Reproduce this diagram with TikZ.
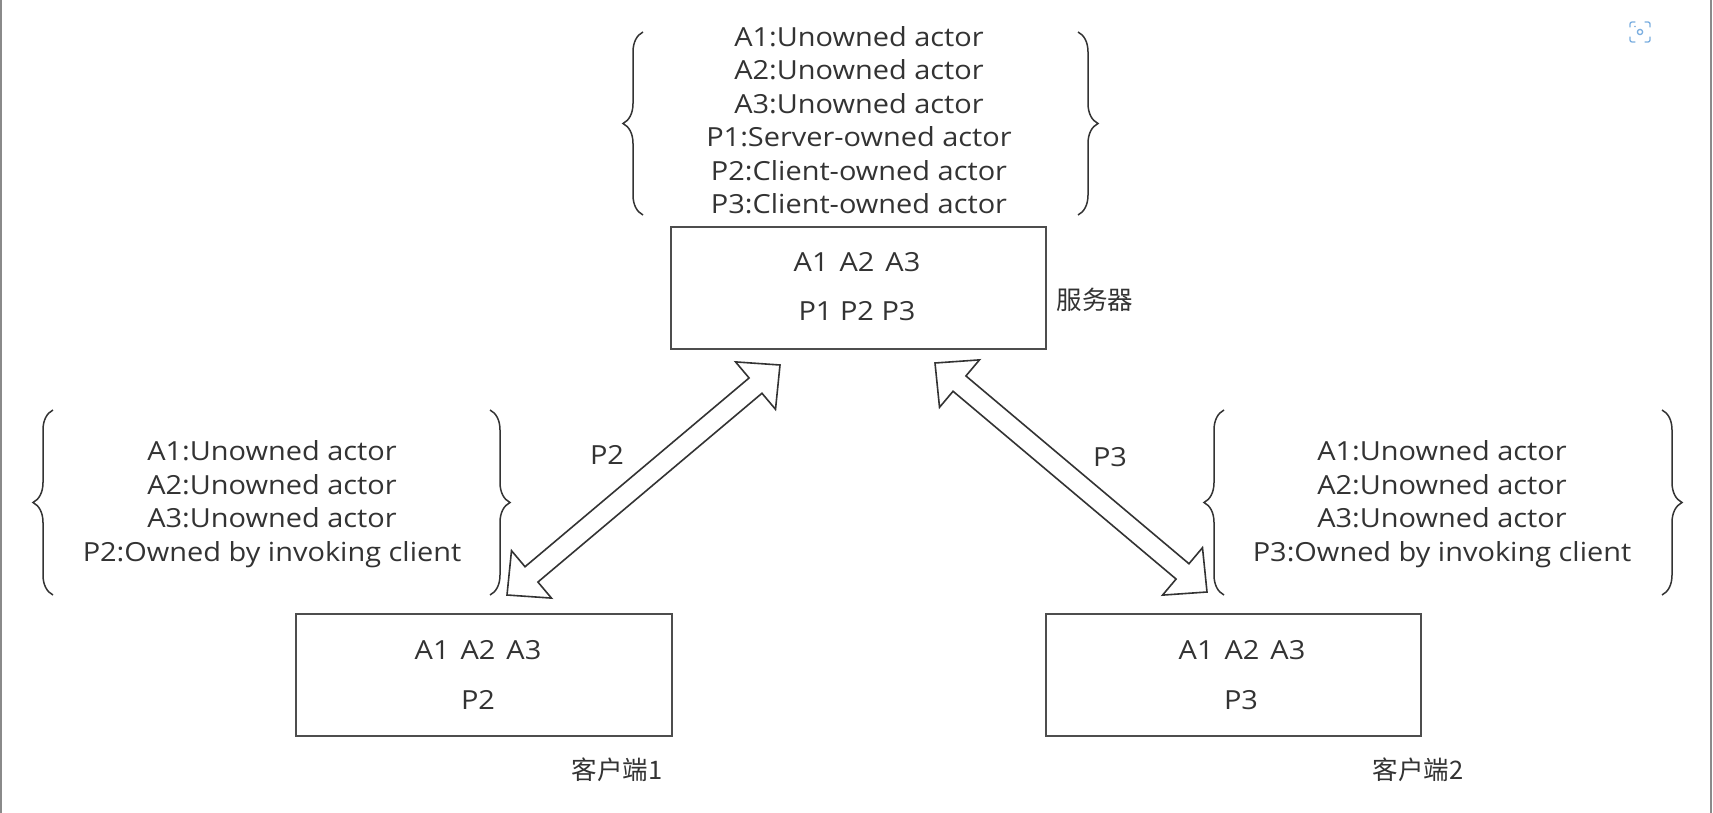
\documentclass[tikz,border=0pt]{standalone}
\usepackage{fontspec}
\setmainfont[FakeStretch=1.10]{Open Sans}
\newfontfamily\cjk{Noto Sans CJK SC}
\usetikzlibrary{calc,decorations.pathreplacing}
\definecolor{ink}{HTML}{333333}
\definecolor{boxline}{HTML}{4D4D4D}
\definecolor{frame}{HTML}{8A8A8A}
\definecolor{iconblue}{HTML}{7AAEE0}
\tikzset{
  txt/.style={text=ink, inner sep=0pt, font=\fontsize{26.3}{33.5}\selectfont},
  grp/.style={txt, align=center},
  cn/.style={text=ink, inner sep=0pt, font=\cjk\fontsize{25.5}{28}\selectfont},
  actbox/.style={draw=boxline, line width=1.8pt, fill=none},
  brc/.style={draw=ink, line width=1.5pt, decorate, decoration={brace, amplitude=20pt}},
  blk/.style={draw=ink, line width=1.6pt, line join=miter, fill=white},
  framel/.style={draw=frame, line width=2pt},
  icon/.style={draw=iconblue, line width=1.3pt, line cap=round}
}
\newcommand{\blockarrow}[2]{%
  \coordinate (h1) at ($(#1)!32pt!(#2)$);
  \coordinate (h2) at ($(#2)!32pt!(#1)$);
  \draw[blk] (#1) -- ($(h1)!31pt!90:(#1)$) -- ($(h1)!10pt!90:(#1)$)
    -- ($(h2)!10pt!-90:(#2)$) -- ($(h2)!31pt!-90:(#2)$) -- (#2)
    -- ($(h2)!31pt!90:(#2)$) -- ($(h2)!10pt!90:(#2)$)
    -- ($(h1)!10pt!-90:(#1)$) -- ($(h1)!31pt!-90:(#1)$) -- cycle;
}
\begin{document}
\begin{tikzpicture}[x=1pt,y=-1pt]
\useasboundingbox (0,0) rectangle (1713,813);
\fill[white] (0,0) rectangle (1713,813);
% window frame
\draw[framel] (1,0) -- (1,813);
\draw[framel] (1711,0) -- (1711,813);
% icon
\draw[icon] (1630,27) -- (1630,24) arc[start angle=180,end angle=90,radius=2pt] -- (1635,22);
\draw[icon] (1645,22) -- (1648,22) arc[start angle=90,end angle=0,radius=2pt] -- (1650,27);
\draw[icon] (1650,37) -- (1650,40) arc[start angle=0,end angle=-90,radius=2pt] -- (1645,42);
\draw[icon] (1635,42) -- (1632,42) arc[start angle=-90,end angle=-180,radius=2pt] -- (1630,37);
\draw[icon] (1640,32) circle[radius=2.6pt];
\fill[iconblue] (1635,26.5) circle[radius=0.9pt];

% boxes
\node[actbox, minimum width=375pt, minimum height=122pt] (server) at (858.5,288) {};
\node[actbox, minimum width=376pt, minimum height=122pt] (client1) at (484,675) {};
\node[actbox, minimum width=375pt, minimum height=122pt] (client2) at (1233.5,675) {};

\node[txt] (srvA) at (857,262) {A1\hspace{11pt}A2\hspace{11pt}A3};
\node[txt] (srvP) at (857,311) {P1 P2 P3};
\node[txt] (c1A) at (478,650) {A1\hspace{11pt}A2\hspace{11pt}A3};
\node[txt] (c1P) at (478,700) {P2};
\node[txt] (c2A) at (1242,650) {A1\hspace{11pt}A2\hspace{11pt}A3};
\node[txt] (c2P) at (1241,700) {P3};

\node[cn] (srvlbl) at (1095,300) {服务器};
\node[cn] (c1lbl) at (617,770) {客户端1};
\node[cn] (c2lbl) at (1418,770) {客户端2};

% descriptions
\node[grp] (srvdesc) at (859,120) {A1:Unowned actor\\A2:Unowned actor\\A3:Unowned actor\\P1:Server-owned actor\\P2:Client-owned actor\\P3:Client-owned actor};
\node[grp] (c1desc) at (272,504) {A1:Unowned actor\\A2:Unowned actor\\A3:Unowned actor\\P2:Owned by invoking client};
\node[grp] (c2desc) at (1442,504) {A1:Unowned actor\\A2:Unowned actor\\A3:Unowned actor\\P3:Owned by invoking client};

% braces
\draw[brc] (643,215) -- (643,32);
\draw[brc] (1078,32) -- (1078,215);
\draw[brc] (53,595) -- (53,410);
\draw[brc] (490,410) -- (490,595);
\draw[brc] (1224,595) -- (1224,410);
\draw[brc] (1662,410) -- (1662,595);

% block arrows
\coordinate (p2top) at (780,365);
\coordinate (p2bot) at (507,595);
\coordinate (p3top) at (935,363);
\coordinate (p3bot) at (1207,592);
\blockarrow{p2top}{p2bot}
\blockarrow{p3top}{p3bot}
\node[txt] (p2lbl) at (607,455) {P2};
\node[txt] (p3lbl) at (1110,457) {P3};
\end{tikzpicture}
\end{document}
